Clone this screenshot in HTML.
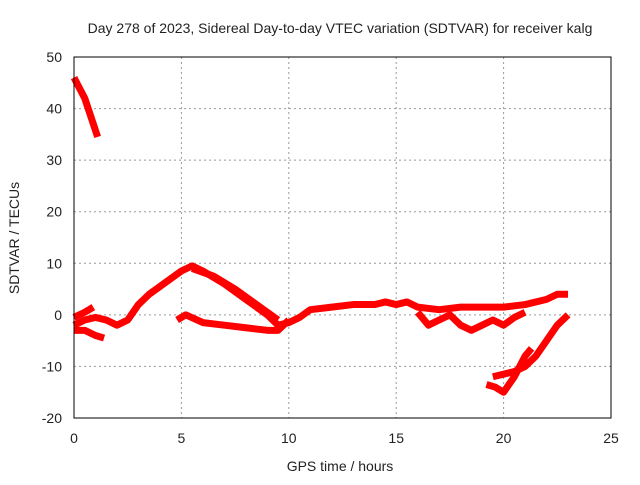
<!DOCTYPE html>
<html><head><meta charset="utf-8"><style>
body{margin:0;background:#fff;font-family:"Liberation Sans",sans-serif}
svg text{font-family:"Liberation Sans",sans-serif;font-size:14px;fill:#222}
</style></head><body>
<svg id="c" width="640" height="480">
<text x="340" y="33" text-anchor="middle">Day 278 of 2023, Sidereal Day-to-day VTEC variation (SDTVAR) for receiver kalg</text>
<text x="340" y="471" text-anchor="middle">GPS time / hours</text>
<text transform="translate(19,238) rotate(-90)" text-anchor="middle">SDTVAR / TECUs</text>
<g id="grid"></g><g id="series"></g>
<rect x="74" y="57" width="537" height="361" fill="none" stroke="#000"/>
</svg>
<script>
const xTicks=[0,5,10,15,20,25];
const yTicks=[-20,-10,0,10,20,30,40,50];
const sA=[[0,46],[0.5,42],[0.9,37],[1.1,34.5]];
const sB=[[0,-2],[0.5,-1],[1,-0.5],[1.5,-1],[2,-2],[2.5,-1],[3,2],[3.5,4],[4,5.5],[4.5,7],[5,8.5],[5.5,9.5],[6,8.5],[7,6],[8,3],[9,0],[9.5,-2],[10,-1.5],[10.5,-0.5],[11,1],[12,1.5],[13,2],[14,2],[14.5,2.5],[15,2],[15.5,2.5],[16,1.5],[17,1],[18,1.5],[19,1.5],[20,1.5],[21,2],[22,3],[22.5,4],[23,4]];
const sB2=[[5.5,9],[6.5,7.5],[7.5,5],[8.5,2],[9.5,-1]];
const sC=[[0,-0.5],[0.5,0.5],[0.9,1.5]];
const sD=[[0,-3],[0.5,-3],[1,-4],[1.4,-4.5]];
const sE=[[4.8,-1],[5.2,0],[6,-1.5],[7,-2],[8,-2.5],[9,-3],[9.5,-3],[10,-1]];
const sF=[[16,0.5],[16.5,-2],[17,-1],[17.5,0],[18,-2],[18.5,-3],[19,-2],[19.5,-1],[20,-2],[20.5,-0.5],[21,0.5]];
const sG=[[19.2,-13.5],[19.6,-14],[20,-15],[20.5,-12],[21,-8],[21.3,-6.5]];
const sH=[[19.5,-12],[20,-11.5],[20.5,-11],[21,-10],[21.5,-8],[22,-5],[22.5,-2],[23,0]];
const NS="http://www.w3.org/2000/svg";
const X=h=>74+h*537/25, Y=v=>418-(v+20)*361/70;
const g=document.getElementById('grid'), s=document.getElementById('series');
function mk(t,a,p){const e=document.createElementNS(NS,t);for(const k in a)e.setAttribute(k,a[k]);p.appendChild(e);return e;}
xTicks.forEach(t=>{
 if(t>0&&t<25){const l=mk('line',{x1:X(t),x2:X(t),y1:57,y2:418,stroke:'#999','stroke-dasharray':'2,3'},g);
 
 }
 const tx=mk('text',{x:X(t),y:443,'text-anchor':'middle'},g);tx.textContent=t;
 
 
});
yTicks.forEach(t=>{
 if(t>-20&&t<50){const l=mk('line',{x1:74,x2:611,y1:Y(t),y2:Y(t),stroke:'#999','stroke-dasharray':'2,3'},g);
 
 }
 const tx=mk('text',{x:62,y:Y(t)+5,'text-anchor':'end'},g);tx.textContent=t;
 
 
});
[sA,sB,sB2,sC,sD,sE,sF,sG,sH].forEach(d=>{
 const p=mk('polyline',{points:d.map(q=>X(q[0])+','+Y(q[1])).join(' '),fill:'none',stroke:'#f00','stroke-width':7,'stroke-linejoin':'round'},s);
 
 
});
</script>
</body></html>
